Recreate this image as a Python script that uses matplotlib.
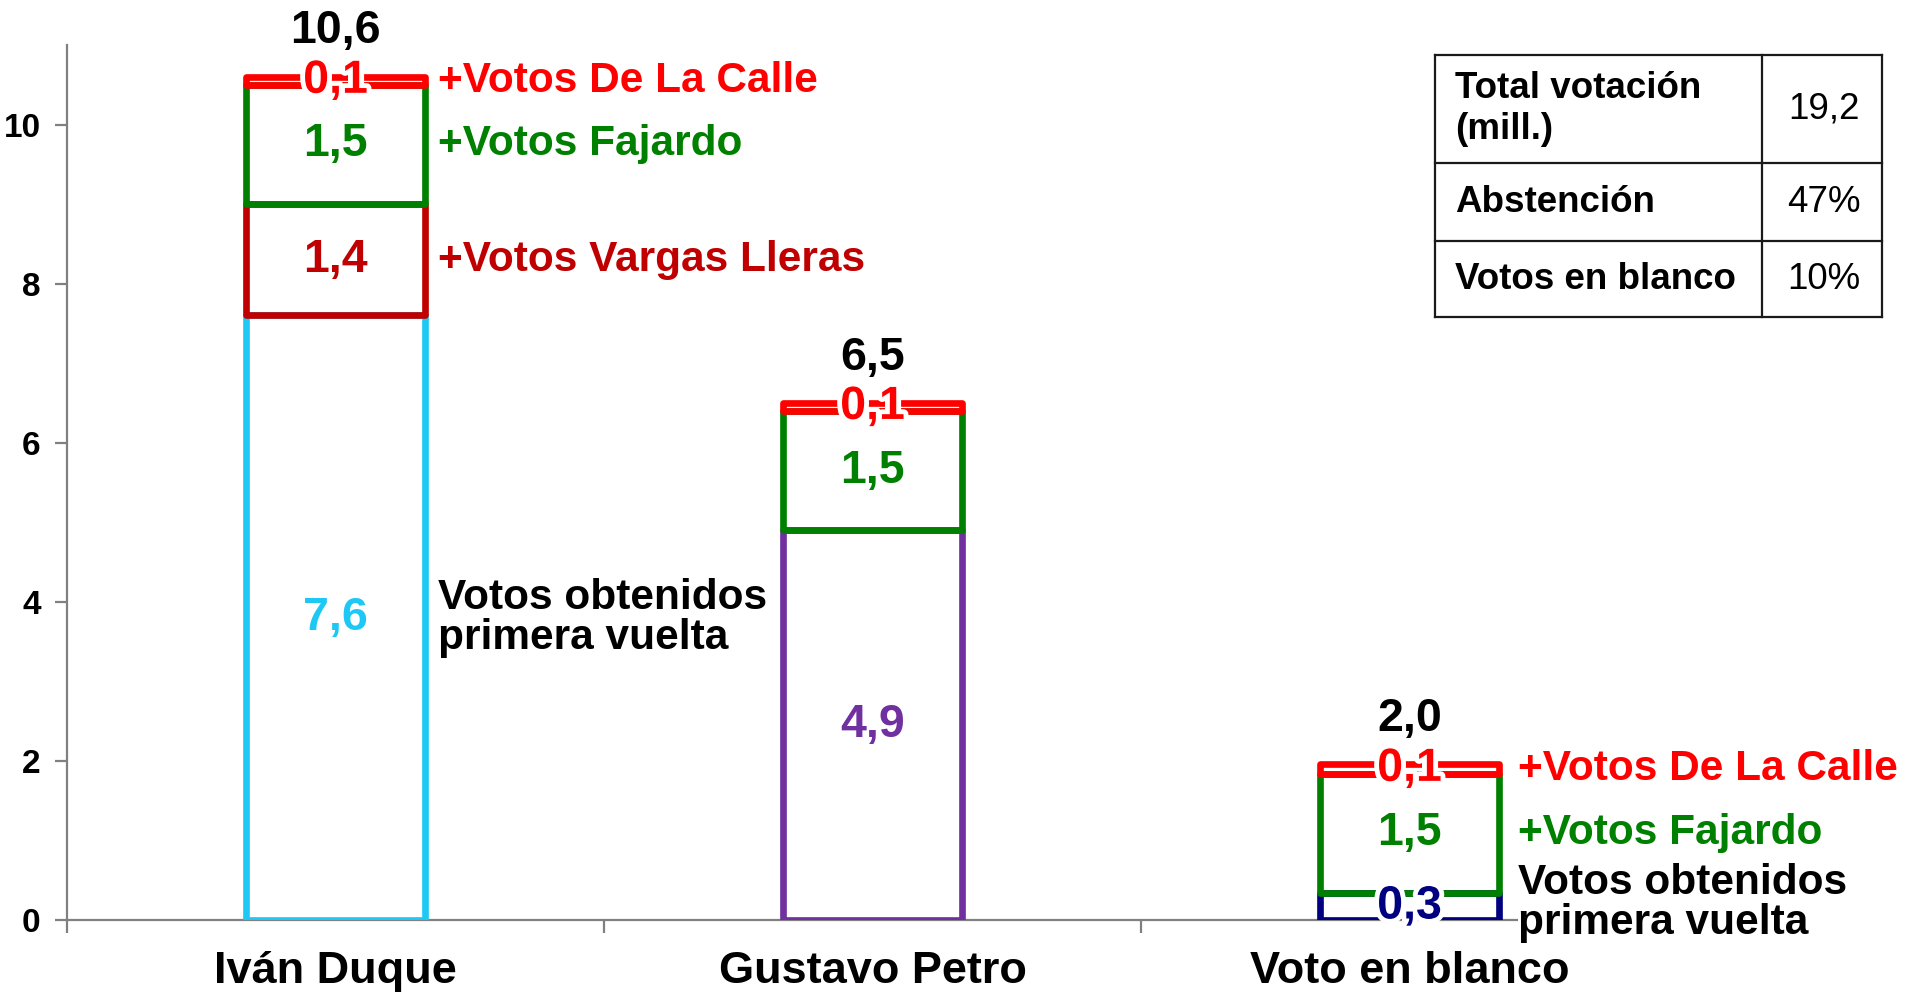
import matplotlib
matplotlib.use("Agg")
import matplotlib.pyplot as plt
import matplotlib.patheffects as pe
from matplotlib.patches import Rectangle

plt.rcParams["font.family"] = ["Liberation Sans", "DejaVu Sans"]

# ---------- data ----------
CANDIDATES = ["Iván Duque", "Gustavo Petro", "Voto en blanco"]
# stacked segments per candidate (millions of votes), bottom -> top
SEG_VALUES = [
    [7.6, 1.4, 1.5, 0.1],
    [4.9, 1.5, 0.1],
    [0.34, 1.5, 0.12],
]
SEG_COLORS = [
    ["#1EC8F5", "#C00000", "#008000", "#FF0000"],
    ["#7030A0", "#008000", "#FF0000"],
    ["#000080", "#008000", "#FF0000"],
]
SEG_NAMES = [
    ["Votos obtenidos\nprimera vuelta", "+Votos Vargas Lleras", "+Votos Fajardo", "+Votos De La Calle"],
    [None, None, None],
    ["Votos obtenidos\nprimera vuelta", "+Votos Fajardo", "+Votos De La Calle"],
]
NAME_COLORS = {"+Votos De La Calle": "#FF0000", "+Votos Fajardo": "#008000",
               "+Votos Vargas Lleras": "#C00000"}

TABLE_ROWS = ["Total votación\n(mill.)", "Abstención", "Votos en blanco"]
TABLE_VALS = ["19,2", "47%", "10%"]

YTICKS = [0, 2, 4, 6, 8, 10]


def fmt(v):
    return f"{v:.1f}".replace(".", ",")


W, H = 1909, 997
fig = plt.figure(figsize=(W / 100, H / 100), dpi=100)
ax = fig.add_axes([67 / W, 1 - 920 / H, (1678 - 67) / W, (920 - 45) / H])

BAR_W = 1 / 3
LW = 4.8
halo = [pe.withStroke(linewidth=7, foreground="white")]

for i, (vals, cols, names) in enumerate(zip(SEG_VALUES, SEG_COLORS, SEG_NAMES)):
    bottom = 0.0
    for j, (v, c) in enumerate(zip(vals, cols)):
        ax.add_patch(Rectangle((i - BAR_W / 2, bottom), BAR_W, v, fill=False,
                               edgecolor=c, linewidth=LW, joinstyle="round",
                               zorder=3 + j * 0.1))
        small = v < 0.5
        ax.text(i, bottom + v / 2, fmt(v), ha="center", va="center",
                color=c, fontsize=33.5, fontweight="bold", zorder=6,
                path_effects=halo if small else None)
        name = names[j]
        if name:
            y = bottom + v / 2
            base_small = j == 0 and v < 1
            if base_small:
                y += 0.05
            ax.text(i + BAR_W / 2 + (0.035 if i == 2 else 0.025), y, name,
                    ha="left", va="center",
                    color=NAME_COLORS.get(name, "black"), fontsize=30.5,
                    fontweight="bold", linespacing=1.0, zorder=7,
                    bbox=dict(facecolor="white", edgecolor="none", pad=0)
                    if base_small else None)
        bottom += v
    ax.text(i, bottom + 0.57, fmt(bottom), ha="center", va="center",
            color="black", fontsize=33.5, fontweight="bold", clip_on=False)

ax.set_xlim(-0.5, 2.5)
ax.set_ylim(0, 11)
for s in ["top", "right"]:
    ax.spines[s].set_visible(False)
for s in ["left", "bottom"]:
    ax.spines[s].set_color("#808080")
    ax.spines[s].set_linewidth(1.6)

ax.set_yticks(YTICKS)
ax.set_yticklabels([str(t) for t in YTICKS], fontsize=24, fontweight="bold")
ax.tick_params(axis="y", length=9, width=1.6, color="#808080", pad=10)

ax.set_xticks(range(len(CANDIDATES)))
ax.set_xticklabels(CANDIDATES, fontsize=32.5, fontweight="bold")
ax.tick_params(axis="x", which="major", length=0, pad=22)
ax.set_xticks([-0.5, 0.5, 1.5, 2.5], minor=True)
ax.tick_params(axis="x", which="minor", length=9, width=1.6, color="#808080",
               direction="out")

# ---------- summary table ----------
tx0, tx1, txm = 1435, 1882, 1762
ty = [55, 163, 241, 317]
tax = fig.add_axes([0, 0, 1, 1])
tax.set_xlim(0, W)
tax.set_ylim(H, 0)
tax.axis("off")
tax.patch.set_visible(False)
lc = "#1a1a1a"
for y in ty:
    tax.plot([tx0, tx1], [y, y], color=lc, lw=1.6)
for x in [tx0, txm, tx1]:
    tax.plot([x, x], [ty[0], ty[-1]], color=lc, lw=1.6)
for k, (lab, val) in enumerate(zip(TABLE_ROWS, TABLE_VALS)):
    yc = (ty[k] + ty[k + 1]) / 2
    tax.text(tx0 + 20, yc, lab, ha="left", va="center", fontsize=26.5,
             fontweight="bold", linespacing=1.25)
    tax.text((txm + tx1) / 2 + 2, yc, val, ha="center", va="center",
             fontsize=26.5)

fig.savefig("out.png", dpi=100)
